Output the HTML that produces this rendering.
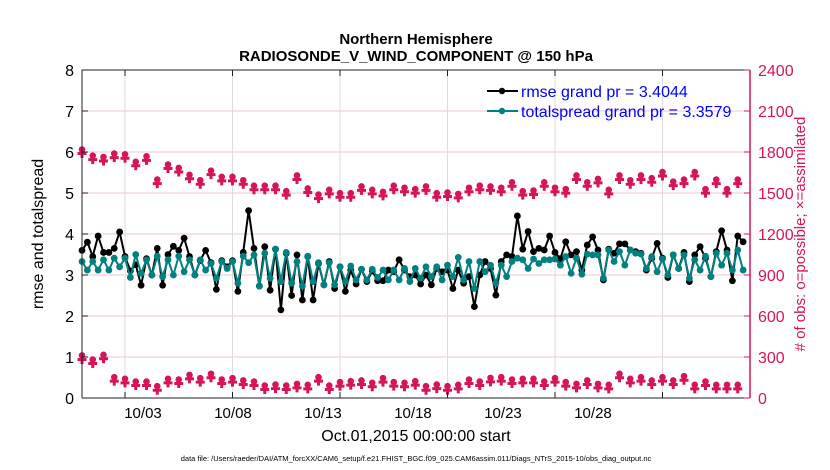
<!DOCTYPE html>
<html><head><meta charset="utf-8"><style>
body{margin:0;background:#fff;}
svg{display:block;font-family:"Liberation Sans",sans-serif;}
</style></head><body>
<svg id="chart" width="830" height="470" viewBox="0 0 830 470">
<g id="grid"></g>
<g id="obs"></g>
<g id="lines"></g>
<g id="axes"></g>
<text x="416" y="44" text-anchor="middle" font-size="15" font-weight="bold">Northern Hemisphere</text>
<text x="416" y="61" text-anchor="middle" font-size="15" font-weight="bold">RADIOSONDE_V_WIND_COMPONENT @ 150 hPa</text>
<text x="43" y="234" text-anchor="middle" font-size="16" transform="rotate(-90 43 234)">rmse and totalspread</text>
<text x="805" y="234" text-anchor="middle" font-size="15" fill="#d6145a" transform="rotate(-90 805 234)"># of obs: o=possible; ×=assimilated</text>
<text x="416" y="441" text-anchor="middle" font-size="16">Oct.01,2015 00:00:00 start</text>
<text x="416" y="461" text-anchor="middle" font-size="7.5">data file: /Users/raeder/DAI/ATM_forcXX/CAM6_setup/f.e21.FHIST_BGC.f09_025.CAM6assim.011/Diags_NTrS_2015-10/obs_diag_output.nc</text>
<g>
<line x1="487" y1="91" x2="518" y2="91" stroke="#000" stroke-width="2"/>
<circle cx="502" cy="91" r="3.2" fill="#000"/>
<text x="521" y="97" font-size="16" fill="#0000ff">rmse grand pr = 3.4044</text>
<line x1="487" y1="111" x2="518" y2="111" stroke="#008080" stroke-width="2"/>
<circle cx="502" cy="111" r="3.2" fill="#008080"/>
<text x="521" y="117" font-size="16" fill="#0000ff">totalspread grand pr = 3.3579</text>
</g>
</svg>
<script>
const rmse=[3.6,3.8,3.45,3.95,3.55,3.55,3.65,4.05,3.45,3.1,3.25,2.75,3.4,3.0,3.65,2.75,3.5,3.7,3.6,3.9,3.45,3.0,3.35,3.6,3.3,2.65,3.35,3.2,3.35,2.6,3.55,4.57,
3.65,2.73,3.69,2.63,3.63,2.15,3.53,2.5,3.49,2.39,3.45,2.39,3.28,2.76,3.33,2.67,3.2,2.6,3.12,2.78,3.14,2.84,3.1,2.86,2.86,3.12,3.08,3.37,3.12,2.96,
3.0,2.78,3.0,2.76,3.16,3.08,3.12,2.67,3.12,2.8,2.96,2.23,3.0,3.33,3.16,2.51,3.33,3.49,3.45,4.44,3.63,4.06,3.57,3.65,3.61,3.95,3.55,3.4,3.81,3.49,3.57,
3.12,3.73,3.93,3.61,2.88,3.63,3.53,3.76,3.76,3.61,3.57,3.53,3.12,3.41,3.77,3.41,2.94,3.49,3.16,3.55,2.84,3.49,3.69,3.41,2.96,3.57,4.08,3.61,2.86,3.95,3.81];
const spread=[3.33,3.12,3.33,3.12,3.37,3.12,3.41,3.2,3.41,2.94,3.5,3.04,3.37,3.0,3.46,2.96,3.37,3.0,3.46,3.08,3.37,3.0,3.37,3.12,3.28,2.92,3.33,3.16,3.33,2.8,3.46,3.3,
3.49,2.73,3.53,2.92,3.63,2.84,3.55,2.8,3.33,2.73,3.46,2.84,3.3,2.76,3.3,2.76,3.2,2.84,3.22,2.88,3.14,2.88,3.14,2.94,3.12,2.88,3.12,2.88,3.16,2.84,
3.16,2.92,3.2,2.96,3.2,2.88,3.24,2.96,3.43,2.88,3.33,2.67,3.33,3.08,3.24,2.8,3.24,2.96,3.33,3.41,3.37,3.16,3.39,3.28,3.37,3.37,3.39,3.24,3.45,3.04,3.41,
3.02,3.51,3.49,3.49,2.92,3.61,3.33,3.57,3.24,3.61,3.53,3.51,3.16,3.45,3.08,3.39,3.0,3.49,3.16,3.49,2.92,3.37,3.12,3.46,2.96,3.53,3.24,3.53,3.12,3.61,3.12];
const obsHigh=[1800,1755,1745,1770,1765,1710,1750,1580,1690,1665,1615,1575,1645,1600,1600,1575,1535,1535,1535,1495,1610,1515,1470,1505,1480,1480,1530,1505,1490,1535,1520,
1510,1530,1480,1485,1475,1520,1535,1530,1520,1560,1495,1500,1560,1520,1510,1610,1560,1585,1505,1610,1575,1610,1590,1635,1565,1580,1635,1510,1580,1510,1580];
const obsLow=[293,263,298,134,122,102,102,68,122,117,151,127,159,117,127,110,102,73,80,73,85,78,134,73,98,105,110,93,127,98,93,
105,68,80,68,78,117,102,129,134,117,122,122,102,127,98,85,110,85,78,159,122,134,110,134,110,141,78,102,78,78,78];
const xTickDays=[3,8,13,18,23,28];
const xTickLabels=["10/03","10/08","10/13","10/18","10/23","10/28"];
const yLeftTicks=[0,1,2,3,4,5,6,7,8];
const yRightTicks=[0,300,600,900,1200,1500,1800,2100,2400];

const L=82,R=750,T=70,B=398,D0=1,D1=32.07;
const X=d=>L+(d-D0)/(D1-D0)*(R-L);
const XL=d=>143+(d-3)*18;
const Y=v=>B-v/8*(B-T);
const Y2=v=>B-v/2400*(B-T);
const dayOf=i=>1+i*0.25;
const NS="http://www.w3.org/2000/svg";
function mk(tag,attrs,parent){const e=document.createElementNS(NS,tag);for(const k in attrs)e.setAttribute(k,attrs[k]);parent.appendChild(e);return e;}
const grid=document.getElementById('grid'),axes=document.getElementById('axes'),obs=document.getElementById('obs'),lines=document.getElementById('lines');
const RED="#d6145a";
yRightTicks.forEach(v=>{if(v>0&&v<2400){const g=mk('line',{x1:L,x2:R,y1:Y2(v),y2:Y2(v),stroke:"#f2c6d6","stroke-width":1},grid);

}});
xTickDays.forEach((d,i)=>{const g=mk('line',{x1:X(d),x2:X(d),y1:T,y2:B,stroke:"#dcdcdc","stroke-width":1},grid);


const tk=mk('line',{x1:X(d),x2:X(d),y1:B,y2:B-6,stroke:"#222"},axes);


const tk2=mk('line',{x1:X(d),x2:X(d),y1:T,y2:T+6,stroke:"#222"},axes);


const tl=mk('text',{x:XL(d),y:B+20,"text-anchor":"middle","font-size":15},axes);tl.textContent=xTickLabels[i];

});
const fr=mk('path',{d:`M${L},${B}L${L},${T}L${R},${T}M${L},${B}L${R},${B}`,stroke:"#222",fill:"none","stroke-width":1},axes);


const ra=mk('line',{x1:R,x2:R,y1:T,y2:B,stroke:RED,"stroke-width":1.5},axes);


yLeftTicks.forEach(v=>{const tk=mk('line',{x1:L,x2:L+6,y1:Y(v),y2:Y(v),stroke:"#222"},axes);


const tl=mk('text',{x:L-8,y:Y(v)+6,"text-anchor":"end","font-size":16},axes);tl.textContent=v;

});
yRightTicks.forEach(v=>{const tk=mk('line',{x1:R-6,x2:R,y1:Y2(v),y2:Y2(v),stroke:RED},axes);


const tl=mk('text',{x:R+8,y:Y2(v)+6,"font-size":16,fill:RED},axes);tl.textContent=v;

});
function obsMark(i,v,name){const cx=X(dayOf(i*2)),cy=Y2(v);
const g=mk('g',{},obs);


mk('circle',{cx:cx,cy:cy-2.5,r:3.3,fill:RED},g);
mk('path',{d:`M${cx-4.5},${cy+1.5}H${cx+4.5}M${cx},${cy-3}V${cy+6}`,stroke:RED,"stroke-width":3},g);}
obsHigh.forEach((v,i)=>obsMark(i,v,'obs-count-possible-marker'));
obsLow.forEach((v,i)=>obsMark(i,v,'obs-count-assimilated-marker'));
function series(arr,color,name){const pts=arr.map((v,i)=>X(dayOf(i)).toFixed(1)+","+Y(v).toFixed(1)).join(" ");
const pl=mk('polyline',{points:pts,fill:"none",stroke:color,"stroke-width":2,"stroke-linejoin":"round"},lines);


arr.forEach((v,i)=>{const c=mk('circle',{cx:X(dayOf(i)),cy:Y(v),r:3.4,fill:color},lines);

});}
series(rmse,"#000","rmse");
series(spread,"#008080","totalspread");
</script>
</body></html>
